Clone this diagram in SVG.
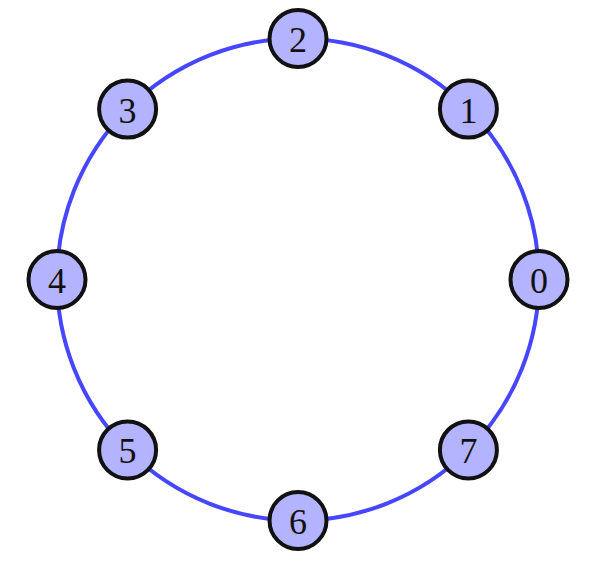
<svg xmlns="http://www.w3.org/2000/svg" width="594" height="564" viewBox="0 0 594 564">
<style>
.ring{fill:none;stroke:#4646ff;stroke-width:4}
.node circle{fill:#b3b3ff;stroke:#111;stroke-width:4}
.node text{font-family:"Liberation Serif","DejaVu Serif",serif;font-size:36px;fill:#111;text-anchor:middle;dominant-baseline:central}
</style>
<rect width="594" height="564" fill="#fff"/>
<g id="connectors">
<circle class="ring" cx="298" cy="279.5" r="241"/>
</g>
<g id="n0" class="node"><circle cx="539" cy="279.5" r="28.5"/><text x="539" y="281">0</text></g>
<g id="n1" class="node"><circle cx="468.4" cy="109.1" r="28.5"/><text x="468.4" y="110.6">1</text></g>
<g id="n2" class="node"><circle cx="298" cy="38.5" r="28.5"/><text x="298" y="40">2</text></g>
<g id="n3" class="node"><circle cx="127.6" cy="109.1" r="28.5"/><text x="127.6" y="110.6">3</text></g>
<g id="n4" class="node"><circle cx="57" cy="279.5" r="28.5"/><text x="57" y="281">4</text></g>
<g id="n5" class="node"><circle cx="127.6" cy="449.9" r="28.5"/><text x="127.6" y="451.4">5</text></g>
<g id="n6" class="node"><circle cx="298" cy="520.5" r="28.5"/><text x="298" y="522">6</text></g>
<g id="n7" class="node"><circle cx="468.4" cy="449.9" r="28.5"/><text x="468.4" y="451.4">7</text></g>
</svg>
